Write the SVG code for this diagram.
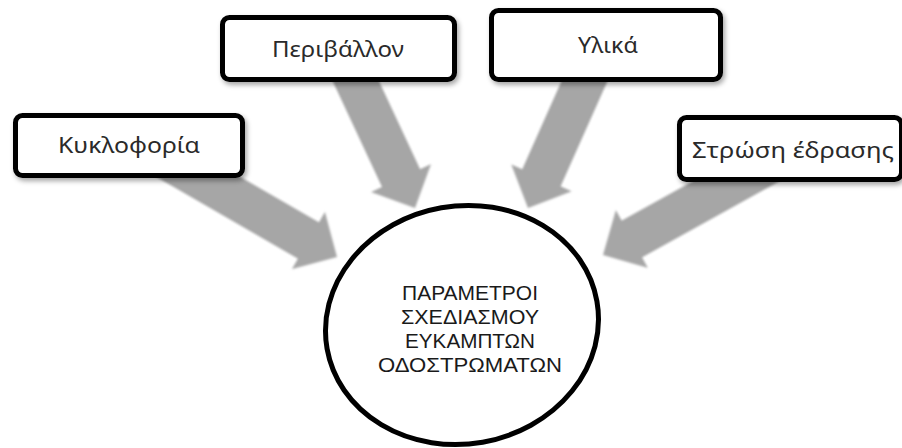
<svg xmlns="http://www.w3.org/2000/svg" width="902" height="448" viewBox="0 0 902 448">
  <style>
    .arrow { fill: #a6a6a6; filter: url(#soft); }
    .box { fill: #ffffff; stroke: #000000; stroke-width: 5; filter: url(#shadow); }
    .lbl { font-family: "Noto Sans", "Open Sans", "DejaVu Sans", sans-serif; font-size: 21px; fill: #2a2a2a; text-anchor: middle; }
    .ctr { font-family: "Liberation Sans", "DejaVu Sans", sans-serif; font-size: 21px; fill: #1a1a1a; text-anchor: middle; }
  </style>
  <defs>
    <filter id="soft" x="-10%" y="-10%" width="120%" height="120%">
      <feGaussianBlur stdDeviation="0.8"/>
    </filter>
    <filter id="shadow" x="-10%" y="-20%" width="125%" height="150%">
      <feDropShadow dx="2" dy="3" stdDeviation="2.5" flood-color="#000" flood-opacity="0.35"/>
    </filter>
  </defs>
  <rect width="902" height="448" fill="#ffffff"/>

  <g id="connectors">
    <polygon class="arrow" transform="translate(337,257) rotate(30)" points="0,0 -33,-33 -33,-21 -224,-21 -224,21 -33,21 -33,33"/>
    <polygon class="arrow" transform="translate(415,208) rotate(65)" points="0,0 -33,-33 -33,-21 -177,-21 -177,21 -33,21 -33,33"/>
    <polygon class="arrow" transform="translate(528,208) rotate(114)" points="0,0 -33,-33 -33,-21 -178,-21 -178,21 -33,21 -33,33"/>
    <polygon class="arrow" transform="translate(603,255) rotate(151)" points="0,0 -33,-33 -33,-21 -220,-21 -220,21 -33,21 -33,33"/>
  </g>

  <g id="node-kykloforia">
    <rect class="box" x="15.5" y="115.5" width="227" height="60" rx="7"/>
    <text class="lbl" x="129" y="153" textLength="142" lengthAdjust="spacingAndGlyphs">Κυκλοφορία</text>
  </g>
  <g id="node-perivallon">
    <rect class="box" x="222.5" y="17.5" width="232" height="62" rx="7"/>
    <text class="lbl" x="338" y="57" textLength="132" lengthAdjust="spacingAndGlyphs">Περιβάλλον</text>
  </g>
  <g id="node-ylika">
    <rect class="box" x="491.5" y="10.5" width="229" height="69" rx="7"/>
    <text class="lbl" x="608" y="53" textLength="60" lengthAdjust="spacingAndGlyphs">Υλικά</text>
  </g>
  <g id="node-strosi">
    <rect class="box" x="679.5" y="117.5" width="222" height="62" rx="7"/>
    <text class="lbl" x="793" y="158" textLength="202" lengthAdjust="spacingAndGlyphs">Στρώση έδρασης</text>
  </g>

  <g id="node-center">
    <ellipse cx="462" cy="325" rx="137" ry="119" transform="rotate(-10 462 325)" fill="#ffffff" stroke="#000000" stroke-width="5"/>
    <text class="ctr" x="470" y="300" textLength="136" lengthAdjust="spacingAndGlyphs">ΠΑΡΑΜΕΤΡΟΙ</text>
    <text class="ctr" x="470" y="324" textLength="138" lengthAdjust="spacingAndGlyphs">ΣΧΕΔΙΑΣΜΟΥ</text>
    <text class="ctr" x="470" y="348" textLength="130" lengthAdjust="spacingAndGlyphs">ΕΥΚΑΜΠΤΩΝ</text>
    <text class="ctr" x="470" y="372" textLength="184" lengthAdjust="spacingAndGlyphs">ΟΔΟΣΤΡΩΜΑΤΩΝ</text>
  </g>
</svg>
